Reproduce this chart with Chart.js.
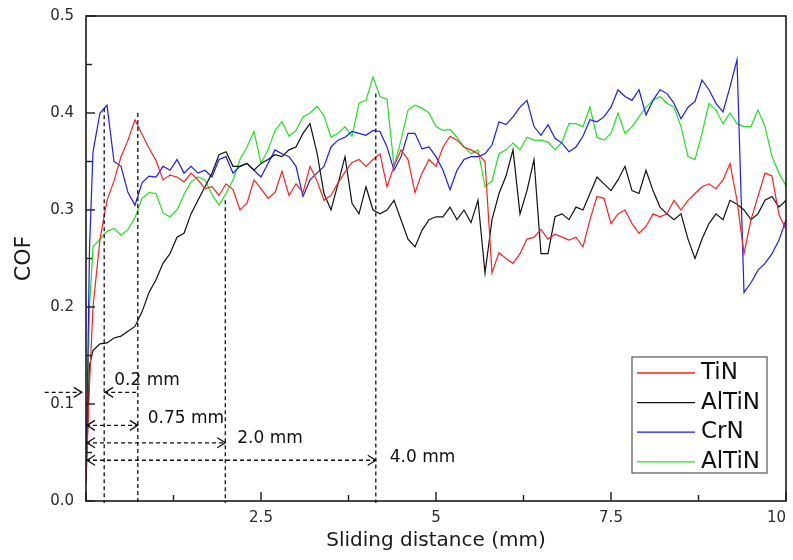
<!doctype html>
<html>
	<head>
		<meta charset="utf-8" />
		<title>COF vs sliding distance</title>
		<script src="https://cdn.jsdelivr.net/npm/chart.js@4.4.1/dist/chart.umd.min.js"></script>
		<style>
			html,
			body {
				margin: 0;
				padding: 0;
				background: #fff;
			}
			#wrap {
				width: 793px;
				height: 560px;
			}
		</style>
	</head>
	<body>
		<div id="wrap"><canvas id="cof"></canvas></div>

		<script>
			// sliding distance (mm), shared by all four coatings
			const distance = [
				0, 0.05, 0.1, 0.2, 0.3, 0.4, 0.5, 0.6, 0.7, 0.8, 0.9,
				1.0, 1.1, 1.2, 1.3, 1.4, 1.5, 1.6, 1.7, 1.8, 1.9,
				2.0, 2.1, 2.2, 2.3, 2.4, 2.5, 2.6, 2.7, 2.8, 2.9,
				3.0, 3.1, 3.2, 3.3, 3.4, 3.5, 3.6, 3.7, 3.8, 3.9,
				4.0, 4.1, 4.2, 4.3, 4.4, 4.5, 4.6, 4.7, 4.8, 4.9,
				5.0, 5.1, 5.2, 5.3, 5.4, 5.5, 5.6, 5.7, 5.8, 5.9,
				6.0, 6.1, 6.2, 6.3, 6.4, 6.5, 6.6, 6.7, 6.8, 6.9,
				7.0, 7.1, 7.2, 7.3, 7.4, 7.5, 7.6, 7.7, 7.8, 7.9,
				8.0, 8.1, 8.2, 8.3, 8.4, 8.5, 8.6, 8.7, 8.8, 8.9,
				9.0, 9.1, 9.2, 9.3, 9.4, 9.5, 9.6, 9.7, 9.8, 9.9, 10.0,
			];

			const cofTiN = [
				0.02, 0.12, 0.2, 0.27, 0.31, 0.33, 0.355, 0.372, 0.393, 0.378, 0.364,
				0.351, 0.331, 0.336, 0.334, 0.329, 0.338, 0.331, 0.322, 0.324, 0.315,
				0.327, 0.321, 0.3, 0.307, 0.331, 0.322, 0.312, 0.318, 0.34, 0.315,
				0.327, 0.318, 0.345, 0.33, 0.31, 0.315, 0.328, 0.339, 0.349, 0.352,
				0.345, 0.352, 0.358, 0.324, 0.345, 0.362, 0.352, 0.318, 0.338, 0.352,
				0.345, 0.365, 0.376, 0.372, 0.365, 0.362, 0.358, 0.35, 0.235, 0.256,
				0.25, 0.245, 0.255, 0.27, 0.272, 0.28, 0.27, 0.275, 0.272, 0.269,
				0.272, 0.262, 0.29, 0.314, 0.312, 0.286, 0.296, 0.3, 0.286, 0.276,
				0.283, 0.296, 0.293, 0.296, 0.31, 0.3, 0.31, 0.317, 0.324, 0.327,
				0.322, 0.331, 0.348, 0.31, 0.255, 0.29, 0.314, 0.338, 0.335, 0.295, 0.28,
			];

			const cofAlTiN = [
				0.02, 0.14, 0.155, 0.162, 0.163, 0.168, 0.17, 0.175, 0.18, 0.195, 0.215,
				0.228, 0.245, 0.255, 0.272, 0.276, 0.296, 0.31, 0.324, 0.338, 0.357,
				0.36, 0.345, 0.345, 0.348, 0.341, 0.348, 0.352, 0.357, 0.355, 0.362,
				0.365, 0.379, 0.389, 0.359, 0.317, 0.3, 0.327, 0.355, 0.307, 0.296,
				0.324, 0.3, 0.296, 0.3, 0.31, 0.29, 0.27, 0.262, 0.279, 0.29,
				0.293, 0.293, 0.303, 0.29, 0.3, 0.287, 0.31, 0.235, 0.29, 0.317,
				0.335, 0.362, 0.296, 0.32, 0.352, 0.255, 0.255, 0.293, 0.296, 0.29,
				0.303, 0.3, 0.317, 0.334, 0.327, 0.32, 0.331, 0.345, 0.32, 0.317,
				0.341, 0.32, 0.303, 0.296, 0.29, 0.296, 0.27, 0.25, 0.27, 0.286,
				0.296, 0.29, 0.31, 0.306, 0.3, 0.29, 0.296, 0.31, 0.314, 0.303, 0.31,
			];

			const cofCrN = [
				0.02, 0.26, 0.36, 0.4, 0.408, 0.35, 0.345, 0.318, 0.305, 0.328, 0.335,
				0.334, 0.345, 0.341, 0.352, 0.338, 0.345, 0.338, 0.341, 0.334, 0.352,
				0.355, 0.338, 0.345, 0.348, 0.341, 0.334, 0.348, 0.362, 0.358, 0.355,
				0.345, 0.314, 0.331, 0.338, 0.345, 0.365, 0.372, 0.375, 0.381, 0.379,
				0.377, 0.382, 0.381, 0.365, 0.341, 0.355, 0.379, 0.379, 0.363, 0.365,
				0.355, 0.341, 0.321, 0.341, 0.352, 0.355, 0.355, 0.358, 0.367, 0.391,
				0.388, 0.396, 0.406, 0.413, 0.386, 0.377, 0.388, 0.374, 0.369, 0.36,
				0.365, 0.376, 0.393, 0.391, 0.396, 0.406, 0.424, 0.417, 0.413, 0.424,
				0.398, 0.413, 0.424, 0.42, 0.41, 0.394, 0.406, 0.412, 0.434, 0.424,
				0.41, 0.401, 0.427, 0.455, 0.215, 0.225, 0.238, 0.245, 0.255, 0.269, 0.29,
			];

			const cofAlTiN2 = [
				0.03, 0.2, 0.262, 0.27, 0.278, 0.281, 0.274, 0.28, 0.292, 0.312, 0.318,
				0.317, 0.297, 0.293, 0.3, 0.316, 0.329, 0.334, 0.331, 0.316, 0.305,
				0.317, 0.331, 0.352, 0.365, 0.381, 0.348, 0.362, 0.382, 0.391, 0.376,
				0.382, 0.396, 0.4, 0.407, 0.397, 0.375, 0.379, 0.386, 0.376, 0.41,
				0.413, 0.437, 0.417, 0.414, 0.345, 0.372, 0.403, 0.408, 0.405, 0.4,
				0.386, 0.382, 0.383, 0.375, 0.365, 0.358, 0.362, 0.324, 0.33, 0.358,
				0.362, 0.369, 0.362, 0.375, 0.372, 0.372, 0.37, 0.362, 0.37, 0.389,
				0.389, 0.386, 0.406, 0.375, 0.372, 0.379, 0.4, 0.379, 0.386, 0.396,
				0.406, 0.413, 0.417, 0.41, 0.406, 0.386, 0.355, 0.352, 0.379, 0.41,
				0.403, 0.389, 0.4, 0.389, 0.386, 0.386, 0.403, 0.386, 0.355, 0.338, 0.325,
			];

			const seriesNames = ["TiN", "AlTiN", "CrN", "AlTiN"];
			const seriesColors = ["#ff1f1f", "#111111", "#1a1aff", "#22e022"];

			const xTicks = [0, 2.5, 5, 7.5, 10];
			const xTickLabels = ["", "2.5", "5", "7.5", "10"];
			const xMinorTicks = [1.25, 3.75, 6.25, 8.75];
			const yTicks = [0, 0.1, 0.2, 0.3, 0.4, 0.5];
			const yTickLabels = ["0.0", "0.1", "0.2", "0.3", "0.4", "0.5"];
			const yMinorTicks = [0.05, 0.15, 0.25, 0.35, 0.45];

			// dashed guide lines: where each transition happens and how high the line goes
			const markerAt = [0.26, 0.74, 1.99, 4.14];
			const markerTop = [0.405, 0.4, 0.31, 0.42];
			const arrowRows = [0.112, 0.078, 0.06, 0.042];
			const arrowLabels = ["0.2 mm", "0.75 mm", "2.0 mm", "4.0 mm"];

			Chart.defaults.font.family = "'DejaVu Sans', sans-serif";
			Chart.defaults.color = "#2a2a2a";

			function head(ctx, px, py, dir) {
				ctx.setLineDash([]);
				ctx.beginPath();
				ctx.moveTo(px - dir * 8, py - 5);
				ctx.lineTo(px, py);
				ctx.lineTo(px - dir * 8, py + 5);
				ctx.stroke();
			}

			function dashed(ctx, x1, y1, x2, y2) {
				ctx.setLineDash([4, 3]);
				ctx.beginPath();
				ctx.moveTo(x1, y1);
				ctx.lineTo(x2, y2);
				ctx.stroke();
			}

			const overlay = {
				id: "overlay",
				afterDatasetsDraw(chart) {
					const { ctx, chartArea: a } = chart;
					const x = chart.scales.x,
						y = chart.scales.y;
					ctx.save();

					// frame
					ctx.strokeStyle = "#1a1a1a";
					ctx.lineWidth = 1.6;
					ctx.strokeRect(a.left, a.top, a.right - a.left, a.bottom - a.top);

					// inward ticks
					ctx.lineWidth = 1.4;
					const tick = (vals, len) => {
						vals.forEach((v) => {
							const px = x.getPixelForValue(v);
							ctx.beginPath();
							ctx.moveTo(px, a.bottom);
							ctx.lineTo(px, a.bottom - len);
							ctx.stroke();
						});
					};
					tick(xTicks, 9);
					tick(xMinorTicks, 6);
					const ytick = (vals, len) => {
						vals.forEach((v) => {
							const py = y.getPixelForValue(v);
							ctx.beginPath();
							ctx.moveTo(a.left, py);
							ctx.lineTo(a.left + len, py);
							ctx.stroke();
						});
					};
					ytick(yTicks, 9);
					ytick(yMinorTicks, 6);

					// dashed markers and arrows
					ctx.strokeStyle = "#111";
					ctx.lineWidth = 1.3;
					const mx = markerAt.map((v) => x.getPixelForValue(v));
					markerAt.forEach((v, i) => {
						dashed(ctx, mx[i], y.getPixelForValue(markerTop[i]), mx[i], a.bottom + 2);
					});

					const ry = arrowRows.map((v) => y.getPixelForValue(v));
					// 0.2 mm: arrow from outside the axis, and a back arrow between the markers
					dashed(ctx, x.getPixelForValue(-0.59), ry[0], x.getPixelForValue(-0.06), ry[0]);
					head(ctx, x.getPixelForValue(-0.06), ry[0], 1);
					dashed(ctx, mx[0], ry[0], mx[1], ry[0]);
					head(ctx, mx[0] + 1, ry[0], -1);
					for (let i = 1; i < 4; i++) {
						dashed(ctx, a.left, ry[i], mx[i], ry[i]);
						head(ctx, a.left + 1, ry[i], -1);
						head(ctx, mx[i], ry[i], 1);
					}

					ctx.fillStyle = "#111";
					ctx.font = "17px 'DejaVu Sans'";
					ctx.textBaseline = "middle";
					const lift = [12, 7, 4, 3];
					const gap = [10, 10, 12, 14];
					arrowLabels.forEach((t, i) => {
						ctx.fillText(t, mx[i] + gap[i], ry[i] - lift[i]);
					});

					// legend box inside the plot
					const bx = a.right - 154,
						by = a.bottom - 144,
						bw = 135,
						bh = 116;
					ctx.setLineDash([]);
					ctx.fillStyle = "#fff";
					ctx.fillRect(bx, by, bw, bh);
					ctx.strokeStyle = "#555";
					ctx.lineWidth = 1.2;
					ctx.strokeRect(bx, by, bw, bh);
					ctx.font = "23px 'DejaVu Sans'";
					chart.data.datasets.forEach((ds, i) => {
						const ly = by + 16 + i * 29.6;
						ctx.strokeStyle = ds.borderColor;
						ctx.lineWidth = 1.3;
						ctx.beginPath();
						ctx.moveTo(bx + 5, ly);
						ctx.lineTo(bx + 63, ly);
						ctx.stroke();
						ctx.fillStyle = "#111";
						ctx.fillText(ds.label, bx + 69, ly);
					});

					ctx.restore();
				},
			};

			const series = [cofTiN, cofAlTiN, cofCrN, cofAlTiN2];

			new Chart(document.getElementById("cof"), {
				type: "line",
				data: {
					datasets: series.map((vals, i) => ({
						label: seriesNames[i],
						data: vals.map((v, j) => ({ x: distance[j], y: v })),
						borderColor: seriesColors[i],
						borderWidth: 1.2,
						pointRadius: 0,
						tension: 0,
					})),
				},
				options: {
					responsive: true,
					maintainAspectRatio: false,
					animation: false,
					layout: { padding: { left: 0, right: 7, top: 16, bottom: 0 } },
					plugins: { legend: { display: false }, tooltip: { enabled: false } },
					scales: {
						x: {
							type: "linear",
							min: 0,
							max: 10,
							grid: { display: false, drawTicks: false },
							border: { display: false },
							afterBuildTicks: (s) => {
								s.ticks = xTicks.map((v) => ({ value: v }));
							},
							afterFit: (s) => {
								s.height = 59;
								s.paddingLeft = 0;
								s.paddingRight = 0;
							},
							ticks: {
								padding: 8,
								align: "inner",
								maxRotation: 0,
								autoSkip: false,
								font: { size: 15 },
								callback: (v, i) => xTickLabels[i],
							},
							title: {
								display: true,
								text: "Sliding distance (mm)",
								font: { size: 20 },
								color: "#1a1a1a",
								padding: { top: 0, bottom: 7 },
							},
						},
						y: {
							min: 0,
							max: 0.5,
							grid: { display: false, drawTicks: false },
							border: { display: false },
							afterBuildTicks: (s) => {
								s.ticks = yTicks.map((v) => ({ value: v }));
							},
							afterFit: (s) => {
								s.width = 86;
								s.paddingTop = 0;
								s.paddingBottom = 0;
							},
							ticks: {
								padding: 12,
								autoSkip: false,
								font: { size: 15 },
								callback: (v, i) => yTickLabels[i],
							},
							title: {
								display: true,
								text: "COF",
								font: { size: 22 },
								color: "#1a1a1a",
								padding: { top: 11, bottom: 0 },
							},
						},
					},
				},
				plugins: [overlay],
			});
		</script>
	</body>
</html>
